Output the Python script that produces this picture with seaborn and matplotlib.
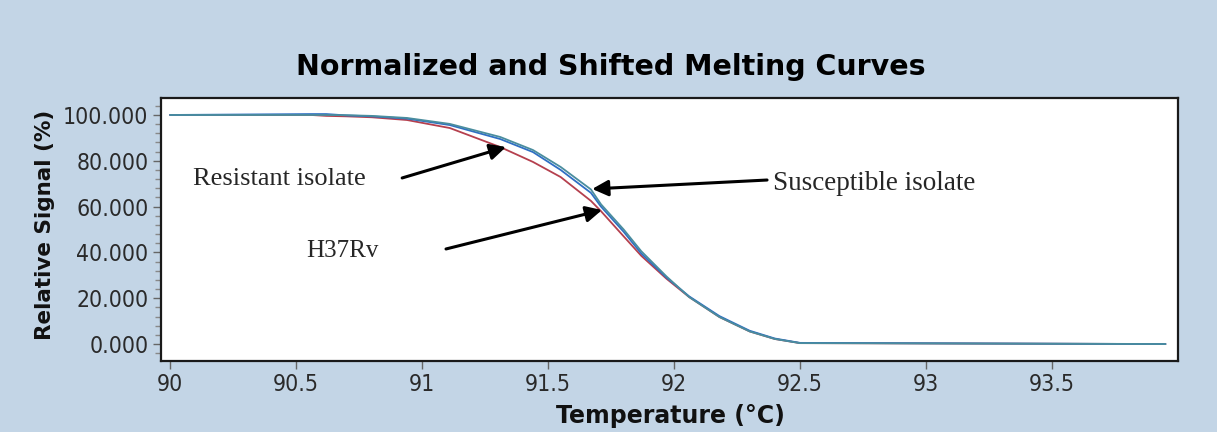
import pandas as pd
import seaborn as sns
import matplotlib.pyplot as plt
from matplotlib.ticker import MultipleLocator, FormatStrFormatter

######################### Donnees #########################

temperature = [90.00, 90.56, 90.62, 90.70, 90.80, 90.94, 91.11, 91.31, 91.44, 91.55,
               91.67, 91.71, 91.80, 91.87, 91.97, 92.06, 92.18, 92.30, 92.40, 92.50,
               93.95]
signal_resistant = [100.0, 100.0, 99.6, 99.4, 99.0, 97.8, 94.3, 86.0, 79.5, 72.9,
                    62.5, 58.0, 47.0, 38.5, 28.5, 20.5, 11.8, 5.5, 2.2, 0.4, 0.0]
signal_susceptible = [100.0, 100.0, 100.0, 99.9, 99.6, 98.7, 96.1, 90.4, 84.7, 77.3,
                      67.5, 61.0, 50.0, 40.5, 29.5, 20.5, 11.8, 5.5, 2.2, 0.4, 0.0]
signal_h37rv = [100.0, 100.4, 100.4, 99.8, 99.4, 98.4, 95.6, 89.5, 83.8, 76.0,
                66.0, 60.0, 49.0, 39.5, 29.0, 20.8, 12.2, 5.8, 2.4, 0.5, 0.0]

series_names = ["Resistant", "H37Rv", "Susceptible"]
series_colors = ["#b5404e", "#2f6fc4", "#4a8d9e"]

xticks = [90, 90.5, 91, 91.5, 92, 92.5, 93, 93.5]
xtick_labels = ["90", "90.5", "91", "91.5", "92", "92.5", "93", "93.5"]

df = pd.concat([
    pd.DataFrame({"temp": temperature, "signal": signal_resistant, "isolate": "Resistant"}),
    pd.DataFrame({"temp": temperature, "signal": signal_h37rv, "isolate": "H37Rv"}),
    pd.DataFrame({"temp": temperature, "signal": signal_susceptible, "isolate": "Susceptible"}),
])

######################### Figure #############################################

sns.set_style("ticks")
plt.rcParams["font.family"] = ["DejaVu Sans"]

bg = "#c3d5e6"
fig = plt.figure(figsize=(12.17, 4.32), dpi=100, facecolor=bg)
ax = fig.add_axes([0.1323, 0.1644, 0.8357, 0.6087])
ax.set_facecolor("white")

sns.lineplot(data=df, x="temp", y="signal", hue="isolate", hue_order=series_names,
             palette=series_colors, linewidth=1.3, legend=False, ax=ax, sort=False)

ax.set_xlim(89.964, 94.0)
ax.set_ylim(-7.4, 107.4)
ax.set_xticks(xticks)
ax.set_xticklabels(xtick_labels)
ax.yaxis.set_major_locator(MultipleLocator(20))
ax.yaxis.set_minor_locator(MultipleLocator(4))
ax.yaxis.set_major_formatter(FormatStrFormatter("%.3f"))

# chiffres etroits et hauts comme dans l'original
for lab in ax.get_xticklabels() + ax.get_yticklabels():
    lab.set_family(["DejaVu Sans"])
    lab.set_fontstretch("condensed")
    lab.set_fontsize(16.5)
    lab.set_color("#2a2a2a")
ax.tick_params(axis="both", which="major", length=6, width=1, color="#666666", pad=3)
ax.tick_params(axis="y", which="minor", length=4, width=1, color="#888888")

for s in ax.spines.values():
    s.set_linewidth(1.6)
    s.set_color("#1a1a1a")

ax.set_xlabel("")
ax.set_ylabel("")
fig.text(0.502, 0.845, "Normalized and Shifted Melting Curves", ha="center", va="center",
         fontsize=20.5, fontweight="bold", color="black")
fig.text(0.551, 0.037, "Temperature (\u00b0C)", ha="center", va="center",
         fontsize=17, fontweight="bold", color="#111111")
fig.text(0.037, 0.479, "Relative Signal (%)", ha="center", va="center", rotation=90,
         fontsize=15.5, fontweight="bold", color="#111111")

# annotations avec fleches
serif = ["Liberation Serif", "DejaVu Serif"]
arrow = dict(arrowstyle="-|>", lw=2.2, color="black", mutation_scale=24,
             shrinkA=0, shrinkB=0)
ax.text(90.091, 72.0, "Resistant isolate", family=serif, fontsize=19, va="center")
ax.annotate("", xy=(91.333, 86.0), xytext=(90.921, 72.5), arrowprops=arrow)
ax.text(92.393, 69.9, "Susceptible isolate", family=serif, fontsize=19.5, va="center")
ax.annotate("", xy=(91.675, 67.7), xytext=(92.369, 71.6), arrowprops=arrow)
ax.text(90.540, 40.6, "H37Rv", family=serif, fontsize=18, va="center")
ax.annotate("", xy=(91.714, 58.5), xytext=(91.095, 41.5), arrowprops=arrow)

fig.savefig("out.png", dpi=100, facecolor=bg)
